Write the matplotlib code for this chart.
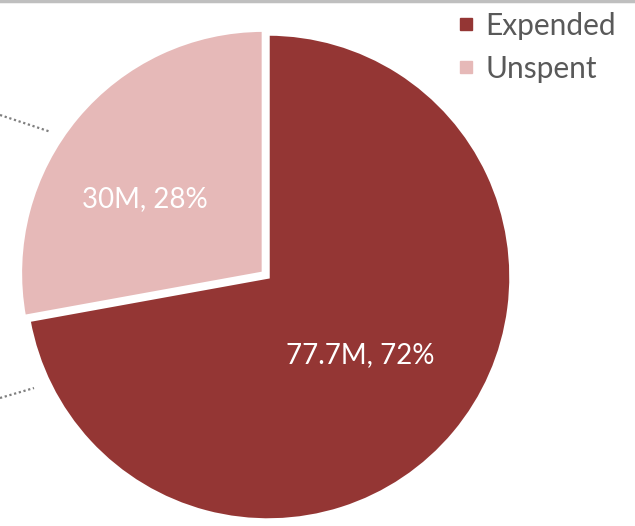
import matplotlib.pyplot as plt
from matplotlib.lines import Line2D

# === DADOS ===
categorias = ["Expended", "Unspent"]
valores = [77.7, 30]
cores = ["#943634", "#E6B9B8"]

W, H = 635, 526
plt.rcParams["font.family"] = ["Lato", "DejaVu Sans"]

fig = plt.figure(figsize=(W / 100, H / 100), dpi=100)
ax = fig.add_axes([0, 0, 1, 1])

total = sum(valores)


def rotulo(pct):
    val = pct * total / 100
    return f"{val:g}M, {pct:.0f}%"


wedges, _, textos = ax.pie(
    valores,
    colors=cores,
    startangle=90,
    counterclock=False,
    center=(268, H - 277),
    radius=243,
    explode=[0, 6],
    autopct=rotulo,
    pctdistance=0.5,
    wedgeprops=dict(edgecolor="white", linewidth=2.5),
    textprops=dict(color="white", fontsize=20),
    frame=True,
)
ax.set_xlim(0, W)
ax.set_ylim(0, H)
ax.set_aspect("equal")
ax.axis("off")

# ajuste fino dos rótulos
textos[1].set_position((145, H - 199))
textos[0].set_position((360, H - 355))

# linhas pontilhadas de chamada (cortadas)
ax.plot([0, 51], [H - 115, H - 132], ls=(0, (1, 1.2)), color="#7f7f7f", lw=1.6)
ax.plot([0, 34], [H - 398, H - 388], ls=(0, (1, 1.2)), color="#7f7f7f", lw=1.6)

# linha cinza no topo
fig.add_artist(Line2D([0, 1], [1 - 1 / H, 1 - 1 / H], color="#bfbfbf", lw=2.5,
                      transform=fig.transFigure))

# legenda
handles = [Line2D([], [], marker="s", ls="", color=c, markersize=8.5) for c in cores]
leg = ax.legend(
    handles,
    categorias,
    loc="upper left",
    bbox_to_anchor=(445 / W, 1 - 0 / H),
    bbox_transform=fig.transFigure,
    frameon=False,
    fontsize=21.5,
    handlelength=0.6,
    handletextpad=0.35,
    labelspacing=0.5,
    borderaxespad=0,
)
for t in leg.get_texts():
    t.set_color("#595959")

plt.savefig("out.png", dpi=100)
plt.close()
